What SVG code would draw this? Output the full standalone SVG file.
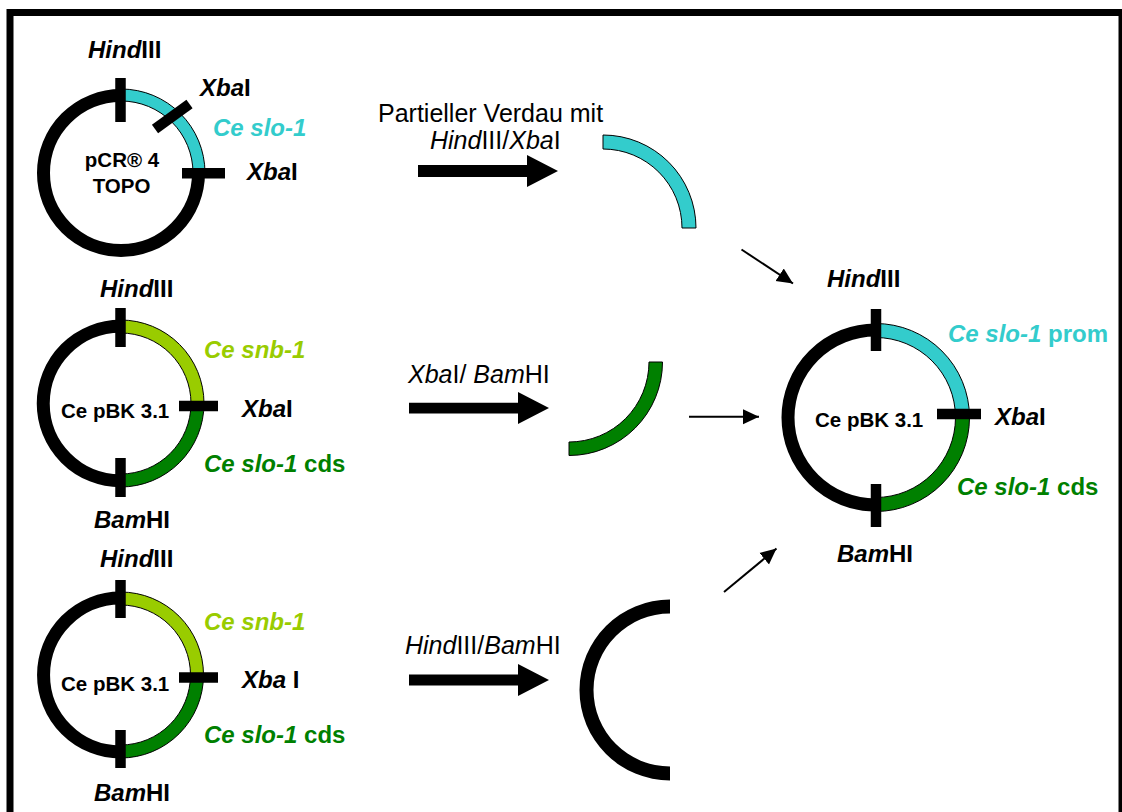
<svg xmlns="http://www.w3.org/2000/svg" width="1122" height="812" viewBox="0 0 1122 812">
<style>
text{font-family:"Liberation Sans",Arial,sans-serif}
.lb{font-size:24px;font-weight:bold}
.nm{font-size:20.5px;font-weight:bold}
.rg{font-size:25px}
.it{font-style:italic}
.ring{fill:none;stroke:#000;stroke-width:13}
.tick{stroke:#000;stroke-width:10.5}
.seg{stroke:#000;stroke-width:1}
.cy{fill:#33CCCC}
.lg{fill:#99CC00}
.dg{fill:#008000}
.thin{stroke:#000;stroke-width:2;fill:none;marker-end:url(#ah)}
</style>
<defs>
<marker id="ah" viewBox="0 0 16 16" refX="16" refY="8" markerWidth="16" markerHeight="16" markerUnits="userSpaceOnUse" orient="auto">
<path d="M0,0.5 L16,8 L0,15.5 Z" fill="#000"/>
</marker>
</defs>
<rect x="0" y="0" width="1122" height="812" fill="#fff"/>
<rect id="frame" x="10" y="12.5" width="1112" height="850" fill="none" stroke="#000" stroke-width="7"/>

<g id="plasmid-pcr4topo">
<path class="ring" d="M198.5,173 A77.5,77.5 0 1 1 121,95.5"/>
<path class="seg cy" d="M121,89 A84,84 0 0 1 205,173 L193,173 A72,72 0 0 0 121,101 Z"/>
<line class="tick" x1="120.5" y1="78" x2="120.5" y2="122"/>
<line class="tick" x1="155" y1="129" x2="189.5" y2="104"/>
<line class="tick" x1="182" y1="173.3" x2="225" y2="173.3"/>
<text class="lb" x="88" y="58"><tspan class="it">Hind</tspan>III</text>
<text class="lb" x="200" y="96"><tspan class="it">Xba</tspan>I</text>
<text class="lb it" x="213" y="136" fill="#33CCCC">Ce slo-1</text>
<text class="lb" x="247" y="180"><tspan class="it">Xba</tspan>I</text>
<text class="nm" x="122" y="167" text-anchor="middle">pCR® 4</text>
<text class="nm" x="121.5" y="193" text-anchor="middle">TOPO</text>
</g>

<g id="plasmid-cepbk-1">
<path class="ring" d="M120.5,480.75 A77.25,77.25 0 0 1 120.5,326.25"/>
<path class="seg lg" d="M120.5,320 A83.5,83.5 0 0 1 204,403.5 L191,403.5 A70.5,70.5 0 0 0 120.5,333 Z"/>
<path class="seg dg" d="M204,403.5 A83.5,83.5 0 0 1 120.5,487 L120.5,474 A70.5,70.5 0 0 0 191,403.5 Z"/>
<line class="tick" x1="120.5" y1="308" x2="120.5" y2="347"/>
<line class="tick" x1="179" y1="406" x2="218" y2="406"/>
<line class="tick" x1="120.5" y1="458" x2="120.5" y2="497"/>
<text class="lb" x="100" y="297"><tspan class="it">Hind</tspan>III</text>
<text class="lb it" x="204" y="358" fill="#99CC00">Ce snb-1</text>
<text class="lb" x="242" y="417"><tspan class="it">Xba</tspan>I</text>
<text class="nm" x="61" y="418">Ce pBK 3.1</text>
<text class="lb" x="204" y="472" fill="#008000"><tspan class="it">Ce slo-1</tspan> cds</text>
<text class="lb" x="94" y="528"><tspan class="it">Bam</tspan>HI</text>
</g>

<g id="plasmid-cepbk-2">
<path class="ring" d="M120.5,752 A77,77 0 0 1 120.5,598"/>
<path class="seg lg" d="M120.5,592 A83,83 0 0 1 203.5,675 L190.5,675 A70,70 0 0 0 120.5,605 Z"/>
<path class="seg dg" d="M203.5,675 A83,83 0 0 1 120.5,758 L120.5,745 A70,70 0 0 0 190.5,675 Z"/>
<line class="tick" x1="120.5" y1="580" x2="120.5" y2="618"/>
<line class="tick" x1="179" y1="677.5" x2="218" y2="677.5"/>
<line class="tick" x1="120.5" y1="730" x2="120.5" y2="768"/>
<text class="lb" x="100" y="567"><tspan class="it">Hind</tspan>III</text>
<text class="lb it" x="204" y="630" fill="#99CC00">Ce snb-1</text>
<text class="lb" x="242" y="688"><tspan class="it">Xba</tspan> I</text>
<text class="nm" x="61" y="691">Ce pBK 3.1</text>
<text class="lb" x="204" y="743" fill="#008000"><tspan class="it">Ce slo-1</tspan> cds</text>
<text class="lb" x="94" y="801"><tspan class="it">Bam</tspan>HI</text>
</g>

<g id="fragment-slo1-prom">
<path class="seg cy" d="M603,135 A93,93 0 0 1 696,228 L682,228 A79,79 0 0 0 603,149 Z"/>
</g>
<g id="fragment-slo1-cds">
<path class="seg dg" d="M662.5,362 A93.5,93.5 0 0 1 569,455.5 L569,442 A80,80 0 0 0 649,362 Z"/>
</g>
<g id="fragment-vector">
<path d="M670,599.5 A90.5,90.5 0 0 0 670,780.5 L670,766.5 A76.5,76.5 0 0 1 670,613.5 Z" fill="#000"/>
</g>

<g id="plasmid-result">
<path class="ring" d="M875.5,505 A87.5,87.5 0 0 1 875.5,330"/>
<path class="seg cy" d="M875.5,323.5 A94,94 0 0 1 969.5,417.5 L955.5,417.5 A80,80 0 0 0 875.5,337.5 Z"/>
<path class="seg dg" d="M969.5,417.5 A94,94 0 0 1 875.5,511.5 L875.5,497.5 A80,80 0 0 0 955.5,417.5 Z"/>
<line class="tick" x1="876" y1="309" x2="876" y2="351"/>
<line class="tick" x1="937" y1="414" x2="981" y2="414"/>
<line class="tick" x1="876" y1="484" x2="876" y2="527"/>
<text class="lb" x="827" y="287"><tspan class="it">Hind</tspan>III</text>
<text class="lb" x="948" y="342" fill="#33CCCC"><tspan class="it">Ce slo-1</tspan> prom</text>
<text class="lb" x="995" y="425"><tspan class="it">Xba</tspan>I</text>
<text class="nm" x="815" y="427">Ce pBK 3.1</text>
<text class="lb" x="957" y="495" fill="#008000"><tspan class="it">Ce slo-1</tspan> cds</text>
<text class="lb" x="837" y="562"><tspan class="it">Bam</tspan>HI</text>
</g>

<g id="connectors">
<path d="M418,165 L527,165 L527,155 L558,171 L527,187 L527,177 L418,177 Z" fill="#000"/>
<path d="M409,402.7 L518,402.7 L518,392 L549,408 L518,424 L518,413.5 L409,413.5 Z" fill="#000"/>
<path d="M409,674.5 L518,674.5 L518,664 L549,680 L518,696 L518,685.5 L409,685.5 Z" fill="#000"/>
<line class="thin" x1="741.5" y1="249.5" x2="793" y2="283.5"/>
<line class="thin" x1="689" y1="416.7" x2="759" y2="416.7"/>
<line class="thin" x1="724" y1="592" x2="776.5" y2="548.5"/>
<text class="rg" x="378" y="122">Partieller Verdau mit</text>
<text class="rg" x="430" y="149"><tspan class="it">Hind</tspan>III/<tspan class="it">Xba</tspan>I</text>
<text class="rg" x="408" y="383"><tspan class="it">Xba</tspan>I/ <tspan class="it">Bam</tspan>HI</text>
<text class="rg" x="405" y="654"><tspan class="it">Hind</tspan>III/<tspan class="it">Bam</tspan>HI</text>
</g>
</svg>
